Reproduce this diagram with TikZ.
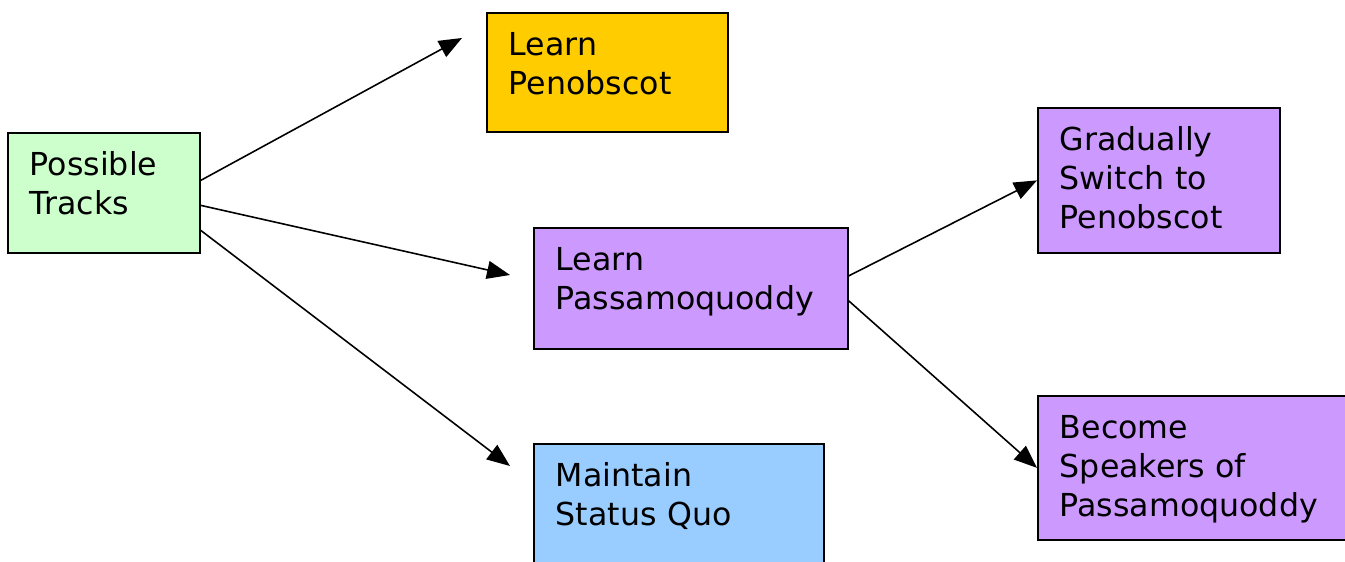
\documentclass[tikz,border=0pt]{standalone}
\usepackage{fontspec}
\setmainfont{DejaVu Sans}
\usetikzlibrary{arrows.meta}
\definecolor{tracksgreen}{RGB}{204,255,204}
\definecolor{penobgold}{RGB}{255,204,0}
\definecolor{passapurple}{RGB}{204,153,255}
\definecolor{quoblue}{RGB}{153,204,255}
\begin{document}
\begin{tikzpicture}[font=\fontsize{18pt}{22.2pt}\selectfont,
  box/.style={draw, line width=1pt, anchor=north west, align=left,
    inner xsep=0.44cm, inner ysep=0.4cm, text height=0.46cm},
  link/.style={-{Triangle[length=0.46cm,width=0.36cm]}, line width=0.9pt}]
\useasboundingbox (0,0) rectangle (26.9,-11.24);

\node[box, fill=tracksgreen, text width=2.96cm, text depth=1.14cm] (tracks) at (0.14,-2.64) {Possible\\Tracks};
\node[box, fill=penobgold, text width=3.94cm, text depth=1.12cm] (penob) at (9.72,-0.24) {Learn\\Penobscot};
\node[box, fill=passapurple, text width=5.40cm, text depth=1.16cm] (passa) at (10.66,-4.54) {Learn\\Passamoquoddy};
\node[box, fill=quoblue, text width=4.92cm, text depth=1.34cm] (quo) at (10.66,-8.86) {Maintain\\Status Quo};
\node[box, fill=passapurple, text width=3.96cm, text depth=1.64cm] (switch) at (20.74,-2.14) {Gradually\\Switch to\\Penobscot};
\node[box, fill=passapurple, text width=5.40cm, text depth=1.62cm] (speak) at (20.74,-7.90) {Become\\Speakers of\\Passamoquoddy};

\coordinate (tippenob) at (9.24,-0.76);
\coordinate (tippassa) at (10.2,-5.5);
\coordinate (tipquo) at (10.2,-9.32);

\draw[link] ([yshift=0.25cm]tracks.east) -- (tippenob);
\draw[link] ([yshift=-0.25cm]tracks.east) -- (tippassa);
\draw[link] ([yshift=-0.75cm]tracks.east) -- (tipquo);
\draw[link] ([yshift=0.25cm]passa.east) -- (switch.west);
\draw[link] ([yshift=-0.25cm]passa.east) -- (speak.west);
\end{tikzpicture}
\end{document}
